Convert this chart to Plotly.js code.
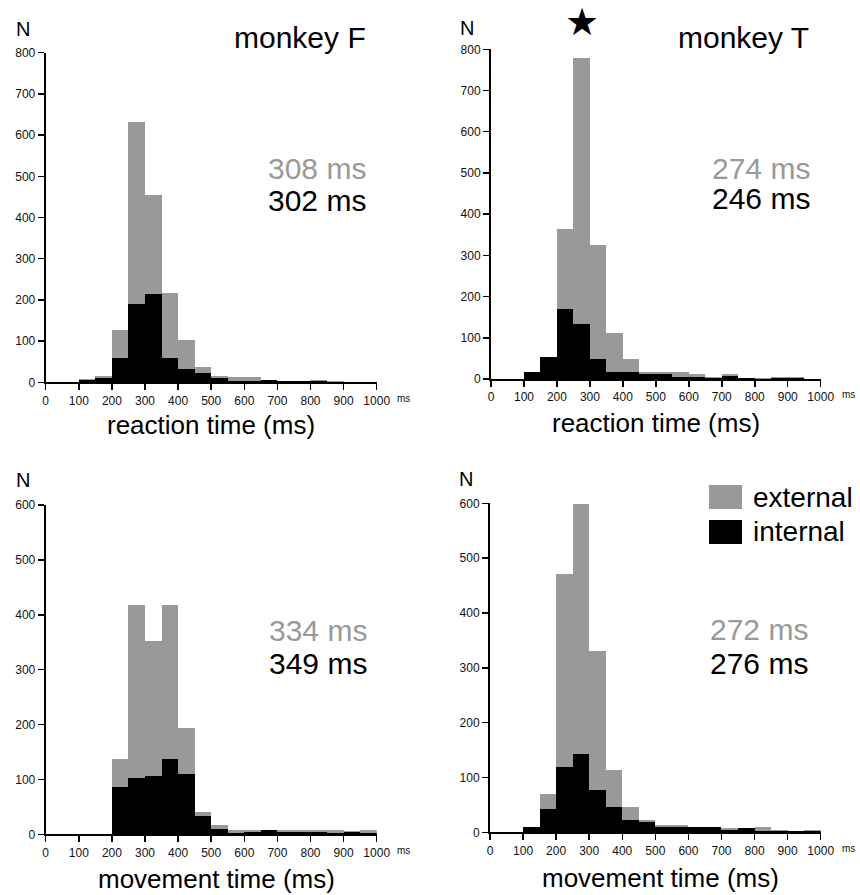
<!DOCTYPE html>
<html>
<head>
<meta charset="utf-8">
<script src="https://cdn.plot.ly/plotly-3.0.1.min.js"></script>
<style>html,body{margin:0;padding:0;background:#fff;}#chart{width:860px;height:895px;}</style>
</head>
<body>
<div id="chart"></div>
<script>
// 50 ms bins from 0 to 1000 ms (bin centres)
const binCenters = [25, 75, 125, 175, 225, 275, 325, 375, 425, 475, 525, 575, 625, 675, 725, 775, 825, 875, 925, 975];
const xTicks = [0, 100, 200, 300, 400, 500, 600, 700, 800, 900, 1000];

// Monkey F, reaction time
const rtF_external = [0, 0, 7, 16, 128, 631, 455, 216, 102, 38, 16, 12, 12, 6, 2, 2, 6, 2, 1, 1];
const rtF_internal = [0, 0, 6, 11, 60, 189, 214, 60, 33, 23, 11, 4, 4, 6, 2, 2, 2, 1, 1, 1];
// Monkey T, reaction time
const rtT_external = [0, 0, 16, 28, 363, 780, 326, 112, 48, 17, 16, 17, 12, 6, 12, 2, 2, 6, 6, 1];
const rtT_internal = [0, 0, 16, 53, 171, 134, 49, 16, 16, 11, 11, 6, 5, 3, 8, 2, 1, 2, 2, 1];
// Monkey F, movement time
const mtF_external = [0, 0, 0, 0, 137, 418, 353, 418, 194, 40, 17, 8, 7, 8, 7, 7, 7, 7, 6, 8];
const mtF_internal = [0, 0, 0, 0, 86, 102, 106, 138, 110, 33, 9, 3, 5, 8, 5, 5, 5, 3, 5, 2];
// Monkey T, movement time
const mtT_external = [0, 0, 10, 70, 471, 598, 331, 114, 46, 22, 13, 13, 9, 9, 7, 7, 9, 5, 2, 5];
const mtT_internal = [0, 0, 10, 42, 120, 143, 78, 46, 22, 18, 9, 9, 9, 9, 5, 8, 3, 2, 2, 2];

const meanLabels = {
  rtF: ["308 ms", "302 ms"], rtT: ["274 ms", "246 ms"],
  mtF: ["334 ms", "349 ms"], mtT: ["272 ms", "276 ms"]
};
const panelTitles = ["monkey F", "monkey T"];
const xTitles = ["reaction time (ms)", "movement time (ms)"];
const seriesNames = ["external", "internal"];
const starBin = 5; // significance star above the 250-300 ms bin (monkey T RT)

const GREY = "#999999";
const BLACK = "#000000";
const FONT = "Liberation Sans, Arial, Helvetica, sans-serif";
const W = 860, H = 895;

const panels = [
  {ext: rtF_external, int: rtF_internal, xa: "x", ya: "y"},
  {ext: rtT_external, int: rtT_internal, xa: "x2", ya: "y2"},
  {ext: mtF_external, int: mtF_internal, xa: "x3", ya: "y3"},
  {ext: mtT_external, int: mtT_internal, xa: "x4", ya: "y4"}
];

const traces = [];
panels.forEach(p => {
  traces.push({type: "bar", x: binCenters, y: p.ext, width: 50, xaxis: p.xa, yaxis: p.ya,
    name: seriesNames[0], marker: {color: GREY, line: {width: 0}}, showlegend: false, hoverinfo: "x+y"});
  traces.push({type: "bar", x: binCenters, y: p.int, width: 50, xaxis: p.xa, yaxis: p.ya,
    name: seriesNames[1], marker: {color: BLACK, line: {width: 0}}, showlegend: false, hoverinfo: "x+y"});
});

function px2x(px) { return px / W; }
function px2y(py) { return 1 - py / H; }

function xaxisDef(l, r, anchor) {
  return {domain: [px2x(l), px2x(r)], range: [0, 1000], anchor: anchor,
    tickvals: xTicks, ticks: "outside", ticklen: 6, tickwidth: 1.5, tickcolor: BLACK,
    showline: true, linewidth: 2, linecolor: BLACK, showgrid: false, zeroline: false,
    tickfont: {family: FONT, size: 12, color: "#111"}, fixedrange: true};
}
function yaxisDef(b, t, max, anchor) {
  return {domain: [px2y(b), px2y(t)], range: [0, max], anchor: anchor, dtick: 100,
    ticks: "outside", ticklen: 6, tickwidth: 1.5, tickcolor: BLACK,
    showline: true, linewidth: 2, linecolor: BLACK, showgrid: false, zeroline: false,
    tickfont: {family: FONT, size: 12, color: "#111"}, fixedrange: true};
}

const ann = [];
function txt(text, xpx, ypx, size, color, xanchor) {
  ann.push({text: text, xref: "paper", yref: "paper", x: px2x(xpx), y: px2y(ypx),
    xanchor: xanchor || "center", yanchor: "middle", showarrow: false,
    font: {family: FONT, size: size, color: color}});
}
// N labels
txt("N", 23, 29, 20, BLACK); txt("N", 467, 28, 20, BLACK);
txt("N", 23, 480, 20, BLACK); txt("N", 466, 479, 20, BLACK);
// panel titles
txt(panelTitles[0], 368, 38, 30, BLACK, "right");
txt(panelTitles[1], 811, 38, 30, BLACK, "right");
// means
txt(meanLabels.rtF[0], 368, 168, 30, GREY, "right"); txt(meanLabels.rtF[1], 368, 200, 30, BLACK, "right");
txt(meanLabels.rtT[0], 812, 168, 30, GREY, "right"); txt(meanLabels.rtT[1], 812, 199, 30, BLACK, "right");
txt(meanLabels.mtF[0], 369, 630, 30, GREY, "right"); txt(meanLabels.mtF[1], 369, 663, 30, BLACK, "right");
txt(meanLabels.mtT[0], 810, 629, 30, GREY, "right"); txt(meanLabels.mtT[1], 810, 663, 30, BLACK, "right");
// x titles
txt(xTitles[0], 211, 425, 26, BLACK); txt(xTitles[0], 656, 423, 26, BLACK);
txt(xTitles[1], 216, 879, 26, BLACK); txt(xTitles[1], 660, 878, 26, BLACK);
// "ms" unit after axis
txt("ms", 395, 398, 10, "#111", "left"); txt("ms", 840, 395, 10, "#111", "left");
txt("ms", 395, 850, 10, "#111", "left"); txt("ms", 840, 848, 10, "#111", "left");
// legend text
txt(seriesNames[0], 751, 497, 28, BLACK, "left");
txt(seriesNames[1], 751, 531, 28, BLACK, "left");
// significance star (monkey T reaction time)
ann.push({text: "★", xref: "x2", yref: "paper", x: binCenters[starBin], y: px2y(22),
  xanchor: "center", yanchor: "middle", showarrow: false,
  font: {family: "DejaVu Sans", size: 38, color: BLACK}});

const shapes = [
  {type: "rect", xref: "paper", yref: "paper", x0: px2x(709), x1: px2x(742), y0: px2y(509), y1: px2y(485),
    fillcolor: GREY, line: {width: 0}},
  {type: "rect", xref: "paper", yref: "paper", x0: px2x(709), x1: px2x(742), y0: px2y(544), y1: px2y(520),
    fillcolor: BLACK, line: {width: 0}}
];

const layout = {
  width: W, height: H, margin: {l: 0, r: 0, t: 0, b: 0},
  paper_bgcolor: "#fff", plot_bgcolor: "rgba(0,0,0,0)",
  barmode: "overlay", bargap: 0, showlegend: false,
  font: {family: FONT, color: BLACK},
  xaxis: xaxisDef(45.7, 376.7, "y"),
  yaxis: yaxisDef(382.3, 52.7, 800, "x"),
  xaxis2: xaxisDef(491, 820.7, "y2"),
  yaxis2: yaxisDef(379, 49.3, 800, "x2"),
  xaxis3: xaxisDef(45.7, 376.7, "y3"),
  yaxis3: yaxisDef(834.3, 505, 600, "x3"),
  xaxis4: xaxisDef(490, 820.7, "y4"),
  yaxis4: yaxisDef(832.3, 503.3, 600, "x4"),
  annotations: ann, shapes: shapes
};

Plotly.newPlot("chart", traces, layout, {staticPlot: true, displayModeBar: false});
</script>
</body>
</html>
